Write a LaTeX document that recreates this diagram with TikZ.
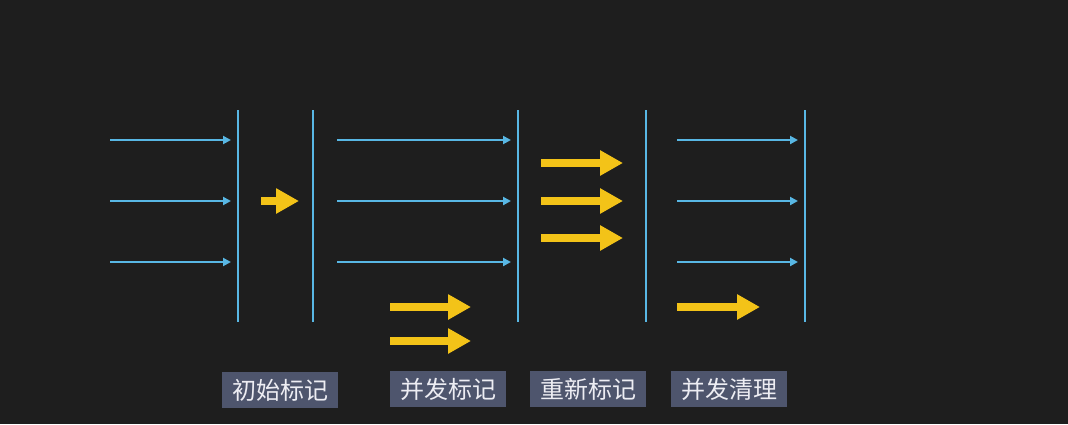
\documentclass[tikz,border=0pt]{standalone}
\usepackage{fontspec}
\usetikzlibrary{arrows.meta}
\newfontfamily\cjk{Noto Sans CJK SC}
\definecolor{board}{HTML}{1E1E1E}
\definecolor{lineblue}{HTML}{58B7E4}
\definecolor{arrowyellow}{HTML}{F3C318}
\definecolor{tagslate}{HTML}{4E556D}
\definecolor{tagtext}{HTML}{EDEDF3}
\tikzset{
  barline/.style={draw=lineblue, line width=2.6pt},
  thinarrow/.style={draw=lineblue, line width=2.3pt, -{Triangle[length=8pt,width=8pt]}},
  fatarrow/.style={draw=arrowyellow, line width=8.5pt, -{Triangle[length=23pt,width=24pt]}},
  tag/.style={fill=tagslate, text=tagtext, minimum width=116pt, minimum height=36pt, inner sep=0pt, font=\cjk\fontsize{24}{24}\selectfont}
}

\begin{document}
\begin{tikzpicture}[x=1pt,y=-1pt]
            \fill[board] (0,0) rectangle (1068,424);
            
            % phase borders
            \foreach \x in {238,313,518,646,805}
                \draw[barline] (\x,110) -- (\x,322);
            
            % application threads
            \foreach \y in {140,201,262} {
                \draw[thinarrow] (110,\y) -- (231,\y);
                \draw[thinarrow] (337,\y) -- (511,\y);
                \draw[thinarrow] (677,\y) -- (798,\y);
            }
            
            % gc threads
            \draw[fatarrow] (261,201) -- (299,201);
            \foreach \y in {163,201,238}
                \draw[fatarrow] (541,\y) -- (623,\y);
            \foreach \y in {307,341}
                \draw[fatarrow] (390,\y) -- (471,\y);
            \draw[fatarrow] (677,307) -- (760,307);
            
            \node[tag] (initmark) at (280,390) {初始标记};
            \node[tag] (concmark) at (448,389) {并发标记};
            \node[tag] (remark) at (588,389) {重新标记};
            \node[tag] (concsweep) at (729,389) {并发清理};
        \end{tikzpicture}
\end{document}
